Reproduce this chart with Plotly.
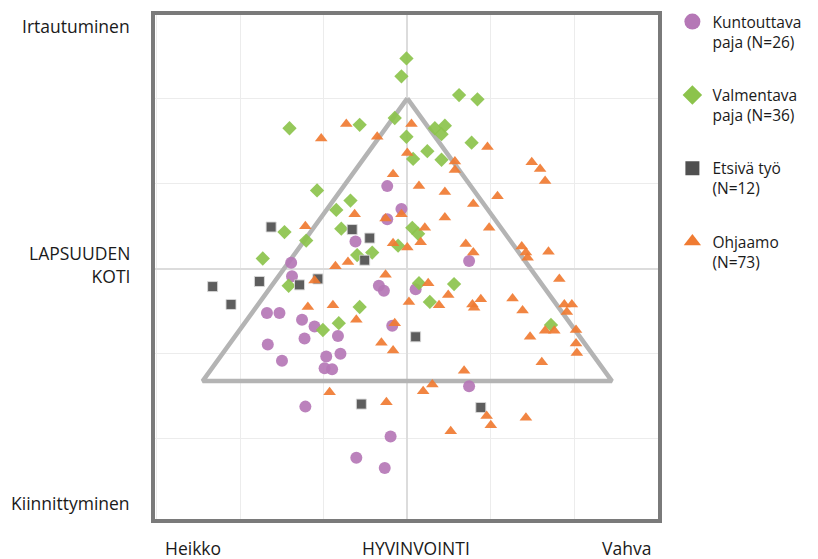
import plotly.graph_objects as go

# ---- data (x: HYVINVOINTI heikko..vahva, y: kiinnittyminen..irtautuminen) ----
kunt_x = [-0.24, -0.07, -0.24, -0.62, 0.74, -0.34, -0.28, 0.10, -0.18, -0.83, -0.80, -1.39, -1.38, -1.68,
          -1.53, -1.26, -1.11, -1.23, -1.67, -1.50, -0.97, -0.99, -0.90, -1.22, 0.74, -0.20, -0.61, -0.27]
kunt_y = [0.97, 0.70, 0.58, 0.32, 0.09, -0.20, -0.26, -0.24, -0.67, -0.79, -1.00, 0.07, -0.09, -0.52,
          -0.52, -0.60, -0.68, -0.82, -0.89, -1.08, -1.03, -1.17, -1.18, -1.62, -1.38, -1.97, -2.22, -2.34]

valm_x = [-0.01, -0.07, 0.62, 0.84, -0.15, -0.57, -0.01, 0.33, 0.45, 0.41, 0.77, 0.07, 0.24, 0.41, -1.41,
          -1.08, -0.68, -0.85, -0.79, 0.06, 0.13, -0.11, -0.60, -0.42, 0.14, 0.56, 0.27, -0.57, -0.82, -1.01,
          -1.47, -1.21, -1.73, -1.42, 1.72]
valm_y = [2.47, 2.26, 2.04, 1.99, 1.77, 1.69, 1.55, 1.65, 1.68, 1.58, 1.48, 1.29, 1.38, 1.28, 1.65,
          0.92, 0.80, 0.69, 0.47, 0.48, 0.41, 0.27, 0.16, 0.19, -0.17, -0.18, -0.39, -0.45, -0.64, -0.72,
          0.43, 0.33, 0.12, -0.20, -0.66]

ets_x = [-0.66, -0.45, -0.51, -1.07, 0.10, -1.63, -1.77, -1.29, -2.33, -2.11, -0.55, 0.88]
ets_y = [0.46, 0.36, 0.10, -0.12, -0.80, 0.49, -0.15, -0.19, -0.21, -0.42, -1.59, -1.63]

ohj_x = [-1.03, -0.73, 0.05, -0.36, 0.96, 0.00, 0.57, 0.57, -0.17, 0.14, 0.45, 0.79, -0.63, -0.07, -0.26,
         0.45, 0.98, 0.21, -0.17, 0.00, 0.16, 0.70, 0.79, -0.71, -0.86, -0.26, 0.25, 0.49, 0.02, 0.38,
         0.78, 0.88, 0.80, -0.89, -0.61, -0.15, -0.31, -0.17, -1.22, -1.11, -1.19, 0.68, 0.30, 0.19, -0.93,
         -0.25, 0.95, 1.00, 0.52, 2.02, 2.03, 1.61, 1.42, 1.49, 1.59, 1.65, 1.08, 1.37, 1.42, 1.44,
         1.69, 1.82, 1.26, 1.38, 1.88, 1.97, 1.91, 1.65, 1.76, 1.47, 2.02]
ohj_y = [1.53, 1.70, 1.70, 1.55, 1.43, 1.36, 1.26, 1.16, 1.11, 0.97, 0.90, 0.76, 0.64, 0.64, 0.59,
         0.60, 0.48, 0.48, 0.30, 0.25, 0.31, 0.29, 0.19, 0.08, 0.03, -0.07, -0.17, -0.31, -0.39, -0.43,
         -0.42, -0.36, -0.46, -0.43, -0.60, -0.64, -0.87, -0.96, 0.50, -0.14, -0.45, -1.20, -1.36, -1.44, -1.45,
         -1.57, -1.73, -1.84, -1.91, -0.88, -0.99, -1.10, -1.75, 1.25, 1.17, 1.03, 0.85, 0.26, 0.19, 0.13,
         0.20, -0.12, -0.35, -0.49, -0.42, -0.42, -0.51, -0.73, -0.73, -0.80, -0.72]

tri_x = [0.0, 2.45, -2.45, 0.0]
tri_y = [2.0, -1.32, -1.32, 2.0]

names = ["Kuntouttava<br>paja (N=26)", "Valmentava<br>paja (N=36)", "Etsivä työ<br>(N=12)", "Ohjaamo<br>(N=73)"]
colors = ["#b577b6", "#8cc34c", "#505050", "#f07b32"]
symbols = ["circle", "diamond", "square", "triangle-up"]
sizes = [12, 11, 10, 11]
legend_sizes = [16, 15, 14, 15]
series = [(kunt_x, kunt_y), (valm_x, valm_y), (ets_x, ets_y), (ohj_x, ohj_y)]

FONT = "Open Sans"
fig = go.Figure()

fig.add_trace(go.Scatter(x=tri_x, y=tri_y, mode="lines", line=dict(color="#b4b4b4", width=4.5),
                         showlegend=False, hoverinfo="skip"))

for i, (sx, sy) in enumerate(series):
    line = dict(color="rgba(215,215,215,0.9)", width=1) if symbols[i] == "square" else dict(width=0)
    fig.add_trace(go.Scatter(x=sx, y=sy, mode="markers", name=names[i], legendgroup=str(i),
                             showlegend=False,
                             marker=dict(symbol=symbols[i], size=sizes[i], color=colors[i],
                                         opacity=0.92, line=line)))
    # legend entry only (bigger symbol, no data)
    fig.add_trace(go.Scatter(x=[None], y=[None], mode="markers", name=names[i], legendgroup=str(i),
                             showlegend=True,
                             marker=dict(symbol=symbols[i], size=legend_sizes[i], color=colors[i])))

axis_common = dict(showgrid=True, gridcolor="#ececec", gridwidth=1, dtick=1, tick0=0,
                   showticklabels=False, ticks="", zeroline=True, zerolinecolor="#dcdcdc",
                   zerolinewidth=2, showline=True, linecolor="#7a7a7a", linewidth=3.5, mirror=True,
                   fixedrange=True)

fig.update_layout(
    width=818, height=559,
    margin=dict(l=155, r=159, t=11, b=40),
    paper_bgcolor="white", plot_bgcolor="white",
    font=dict(family=FONT, size=17, color="#1a1a1a"),
    xaxis=dict(range=[-3.02, 3.0], **axis_common),
    yaxis=dict(range=[-2.94, 2.98], **axis_common),
    legend=dict(xref="container", yref="container", x=0.822, y=0.991, xanchor="left", yanchor="top",
                valign="top", traceorder="grouped", tracegroupgap=30, maxheight=540,
                font=dict(family=FONT, size=15.5, color="#1a1a1a"), itemwidth=30),
    showlegend=True,
)

def lab(text, x, y, xanchor="center", align="center"):
    fig.add_annotation(text=text, x=x, y=y, xref="paper", yref="paper", showarrow=False,
                       xanchor=xanchor, yanchor="middle", align=align,
                       font=dict(family=FONT, size=17.5, color="#1a1a1a"))

lab("Irtautuminen", -0.046, 0.978, "right", "right")
lab("LAPSUUDEN<br>KOTI", -0.046, 0.504, "right", "right")
lab("Kiinnittyminen", -0.046, 0.0315, "right", "right")
lab("Heikko", 0.075, -0.057)
lab("HYVINVOINTI", 0.518, -0.057)
lab("Vahva", 0.938, -0.057)

fig.write_html("out.html", config={"displayModeBar": False},
               post_script="document.body.style.margin='0';document.body.style.overflow='hidden';")
